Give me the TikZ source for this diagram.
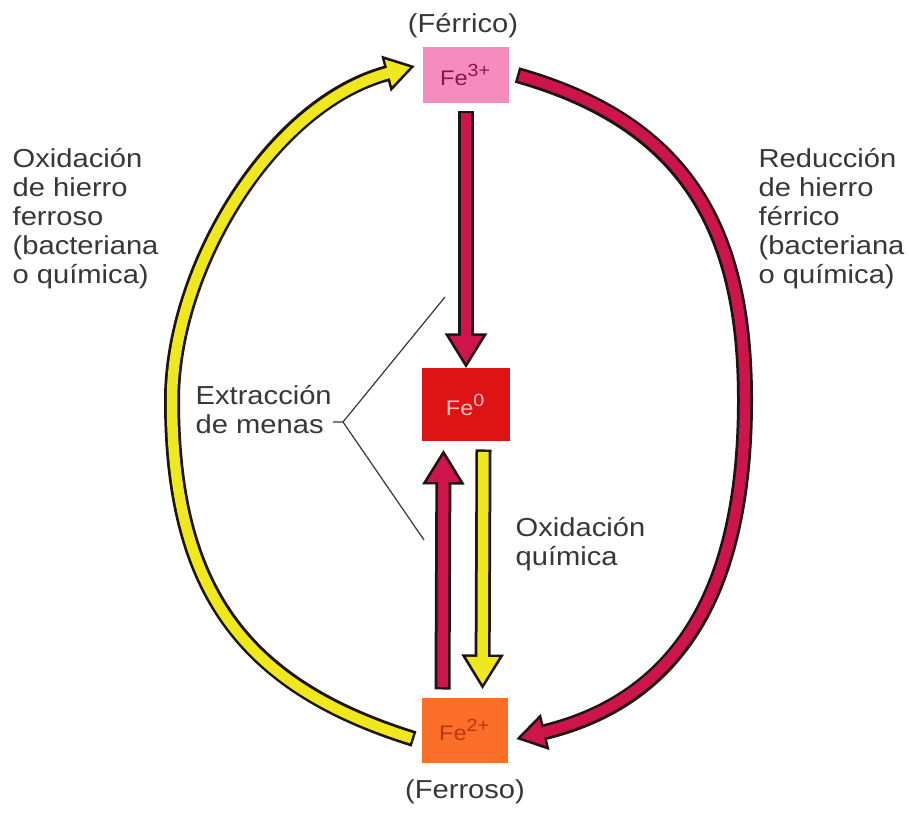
\documentclass[tikz,border=0pt]{standalone}
\usepackage{fontspec}
\setmainfont{Liberation Sans}[FakeStretch=1.12]
\usetikzlibrary{arrows.meta}
\definecolor{carmin}{RGB}{205,20,75}
\definecolor{amarillo}{RGB}{240,232,30}
\definecolor{edge}{RGB}{30,20,20}
\definecolor{txt}{RGB}{55,55,55}
\definecolor{pinkbox}{RGB}{245,140,190}
\definecolor{redbox}{RGB}{222,20,20}
\definecolor{orgbox}{RGB}{250,110,40}
\definecolor{fetres}{RGB}{140,20,70}
\definecolor{fecero}{RGB}{255,190,190}
\definecolor{fedos}{RGB}{185,55,20}
\begin{document}
\begin{tikzpicture}[x=.1mm, y=-.1mm, font=\fontsize{7.4}{8.2}\selectfont, text=txt,
	febox/.style={inner sep=0pt, outer sep=.8mm, font=\fontsize{6}{7}\selectfont},
	lbl/.style={align=left, anchor=north west, inner sep=0pt},
	arrout/.style={draw=edge, line width=1.6mm, -{Triangle[length=3.5mm, width=4mm]}},
	arrin/.style={draw=#1, line width=1.05mm, shorten <=.25mm, shorten >=.5mm, -{Triangle[length=2.75mm, width=3.1mm]}},
	arcout/.style={draw=edge, line width=1.6mm, -{Triangle[length=3mm, width=3.5mm]}},
	arcin/.style={draw=#1, line width=1.05mm, shorten <=.25mm, shorten >=.5mm, -{Triangle[length=2.25mm, width=2.6mm]}}]
	\fill[white] (0,0) rectangle (909,806);
	% cajas
	\node[febox, fill=pinkbox, text=fetres, minimum width=8.6mm, minimum height=5.6mm] (fe3) at (466,75) {Fe\textsuperscript{3+}};
	\node[febox, fill=redbox, text=fecero, minimum width=8.8mm, minimum height=7.3mm] (fe0) at (466,405) {Fe\textsuperscript{0}};
	\node[febox, fill=orgbox, text=fedos, minimum width=8.6mm, minimum height=6.5mm] (fe2) at (465,730) {Fe\textsuperscript{2+}};
	\node[anchor=base] (ferrico) at (463,33) {(Férrico)};
	\node[anchor=base] (ferroso) at (465,798) {(Ferroso)};
	% textos
	\node[lbl] (oxlt) at (12,148) {Oxidación\\de hierro\\ferroso\\(bacteriana\\o química)};
	\node[lbl] (redt) at (758,148) {Reducción\\de hierro\\férrico\\(bacteriana\\o química)};
	\node[lbl] (extt) at (195,385) {Extracción\\de menas};
	\node[lbl] (oxqt) at (515,517) {Oxidación\\química};
	% ciclo exterior
	\coordinate (lft) at (172,400);
	\coordinate (rgt) at (745,400);
	\draw[arcout] (fe2.190) .. controls +(-170,-53) and +(0,190) .. (lft) .. controls +(0,-130) and +(-145,38) .. (fe3.170);
	\draw[arcin=amarillo] (fe2.190) .. controls +(-170,-53) and +(0,190) .. (lft) .. controls +(0,-130) and +(-145,38) .. (fe3.170);
	\draw[arcout] (fe3.east) .. controls +(170,48) and +(0,-170) .. (rgt) .. controls +(0,180) and +(170,-41) .. (fe2.-10);
	\draw[arcin=carmin] (fe3.east) .. controls +(170,48) and +(0,-170) .. (rgt) .. controls +(0,180) and +(170,-41) .. (fe2.-10);
	% flechas rectas
	\draw[arrout] (fe3.south) -- ([yshift=-.8mm]fe0.north);
	\draw[arrin=carmin] (fe3.south) -- ([yshift=-.8mm]fe0.north);
	\draw[arrout] ([xshift=-2.25mm]fe2.north) -- ([xshift=-2.25mm]fe0.south);
	\draw[arrin=carmin] ([xshift=-2.25mm]fe2.north) -- ([xshift=-2.25mm]fe0.south);
	\draw[arrout] ([xshift=1.75mm]fe0.south) -- ([xshift=1.75mm]fe2.north);
	\draw[arrin=amarillo] ([xshift=1.75mm]fe0.south) -- ([xshift=1.75mm]fe2.north);
	% llave de extraccion
	\coordinate (tk) at (333,422);
	\coordinate (brc) at (343,422);
	\coordinate (up) at (445,297);
	\coordinate (dn) at (424,540);
	\draw[line width=.12mm, txt] (tk) -- (brc) -- (up) (brc) -- (dn);
\end{tikzpicture}
\end{document}
